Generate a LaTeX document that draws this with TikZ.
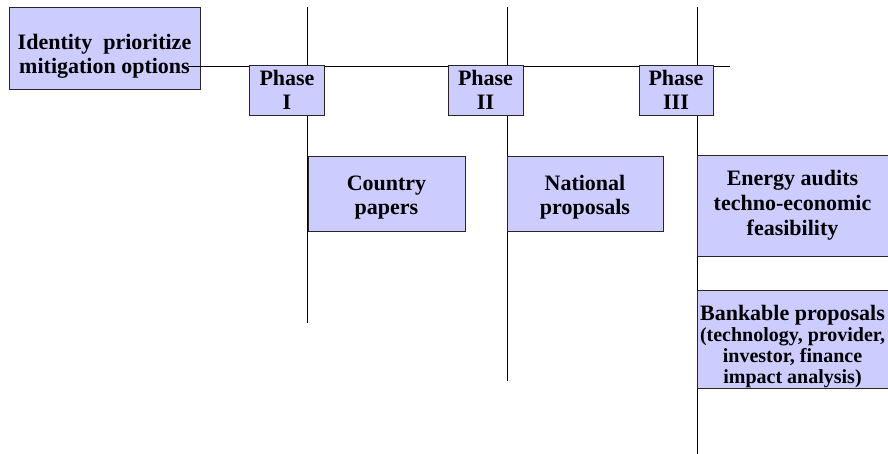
\documentclass[tikz,border=0pt]{standalone}
\usepackage{fontspec}
\setmainfont{Liberation Serif}
\usetikzlibrary{positioning}

\definecolor{boxfill}{RGB}{204,204,255}
\tikzset{
  box/.style={draw=black!85, fill=boxfill, line width=0.9pt, inner sep=0pt,
    align=center, font=\bfseries\fontsize{22}{24}\selectfont},
  smallbox/.style={box, font=\bfseries\fontsize{20}{21}\selectfont},
  rule/.style={draw=black, line width=0.9pt}
}
\newcommand{\lowstrut}{\rule{0pt}{30pt}}

\begin{document}
\begin{tikzpicture}[x=1pt, y=1pt]
  \useasboundingbox (0,0) rectangle (888,-454);
  % the time line and the three phases
  \coordinate (hstart) at (188,-66);
  \coordinate (hend)   at (730,-66);
  \coordinate (pItop)   at (307,-7);   \coordinate (pIbot)   at (307,-323);
  \coordinate (pIItop)  at (507,-7);   \coordinate (pIIbot)  at (507,-381);
  \coordinate (pIIItop) at (697,-7);   \coordinate (pIIIbot) at (697,-454);
  \path[rule]
  (pItop) edge (pIbot)
  (pIItop) edge (pIIbot)
  (pIIItop) edge (pIIIbot);

  \node[box, minimum width=191pt, minimum height=82pt] (ident) at (104.5,-48.5)
    {\lowstrut Identity\ \ prioritize\\mitigation options};
  \draw[rule] (hstart) -- (hend);

  \node[box, minimum width=75pt, minimum height=50pt] (phaseI)   at (287,-90)   {Phase\\I};
  \node[box, minimum width=75pt, minimum height=50pt] (phaseII)  at (485.5,-90) {Phase\\II};
  \node[box, minimum width=74pt, minimum height=50pt] (phaseIII) at (676,-90)   {Phase\\III};

  \node[box, minimum width=157pt, minimum height=75pt] (country)  at (386.5,-193.5)
    {\rule{0pt}{22pt}Country\\papers};
  \node[box, minimum width=156pt, minimum height=75pt] (national) at (585,-193.5)
    {\rule{0pt}{22pt}National\\proposals};
  \node[box, minimum width=191pt, minimum height=101pt] (energy)  at (792.5,-205.5)
    {Energy audits\\[1pt]techno-economic\\[1pt]feasibility};
  \node[smallbox, minimum width=191pt, minimum height=98pt] (bank) at (792.5,-339.5)
    {\lowstrut{\fontsize{22}{24}\selectfont Bankable proposals}\\(technology, provider,\\
     investor, finance\\impact analysis)};
\end{tikzpicture}
\end{document}
